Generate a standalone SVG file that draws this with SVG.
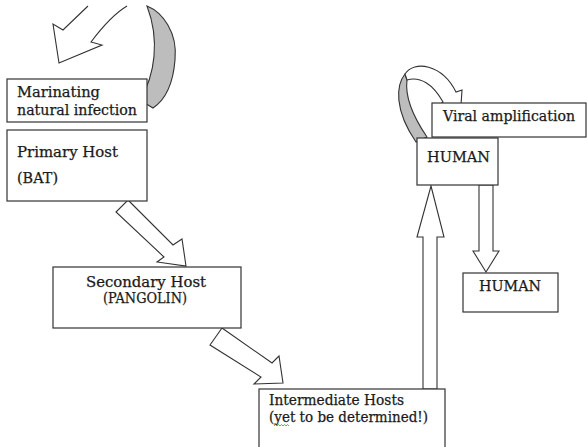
<svg xmlns="http://www.w3.org/2000/svg" width="587" height="447" viewBox="0 0 587 447">
<style>
.box{fill:#fff;stroke:#333;stroke-width:1.2}
.arr{fill:#fff;stroke:#333;stroke-width:1.1;stroke-linejoin:miter}
.band{fill:#bdbdbd;stroke:#333;stroke-width:1.1}
text{font-family:"DejaVu Serif","Liberation Serif",serif;font-size:14px;fill:#1a1a1a;stroke:#1a1a1a;stroke-width:0.25}
</style>
<rect width="587" height="447" fill="#fff"/>
<g id="connectors">
<path class="band" d="M147,6 C162,12 178,32 175,60 C173,85 165,100 153,108 L140,100 C155,75 160,40 147,6 Z"/>
<path class="arr" d="M88,6 L63,30 L53,24 L59,63 L102,45 L91,42 C100,30 112,15 127,6"/>
<path class="band" d="M405,74 C396,85 394,110 416,142 L427,137 C412,115 405,95 407,80 Z"/>
<path class="arr" d="M405,74 C414,60 442,64 456,92 L462,90 L460,120 L436,108 L443,102 C433,84 420,76 407,80 Z"/>
<polygon class="arr" points="128,200 173,245 182,239 186,266 157,262 164,257 116,212"/>
<polygon class="arr" points="222,328 272,363 279,356 283,383 254,384 261,377 210,345"/>
<polygon class="arr" points="423,389 423,237 417,237 431,186 444,237 437,237 437,389"/>
<polygon class="arr" points="479,185 479,251 473,251 486,272 499,251 493,251 493,185"/>
</g>
<g id="marinating">
<rect class="box" x="7" y="79" width="140" height="43"/>
<text x="17" y="97" textLength="83" lengthAdjust="spacingAndGlyphs">Marinating</text>
<text x="17" y="115" textLength="120" lengthAdjust="spacingAndGlyphs">natural infection</text>
</g>
<g id="primary">
<rect class="box" x="7" y="130" width="140" height="71"/>
<text x="17" y="157" textLength="101" lengthAdjust="spacingAndGlyphs">Primary Host</text>
<text x="17" y="183" textLength="41" lengthAdjust="spacingAndGlyphs">(BAT)</text>
</g>
<g id="secondary">
<rect class="box" x="53" y="267" width="188" height="61"/>
<text x="86" y="287" textLength="120" lengthAdjust="spacingAndGlyphs">Secondary Host</text>
<text x="103" y="303" textLength="84" lengthAdjust="spacingAndGlyphs">(PANGOLIN)</text>
</g>
<g id="intermediate">
<rect class="box" x="259" y="389" width="186" height="70"/>
<text x="269" y="405" textLength="135" lengthAdjust="spacingAndGlyphs">Intermediate Hosts</text>
<text x="269" y="422" textLength="159" lengthAdjust="spacingAndGlyphs">(yet to be determined!)</text>
<path d="M274,426 l1.5,-1.5 l1.5,1.5 l1.5,-1.5 l1.5,1.5 l1.5,-1.5 l1.5,1.5 l1.5,-1.5 l1.5,1.5 l1.5,-1.5 l1.5,1.5" fill="none" stroke="#3a9a3a" stroke-width="0.8"/>
</g>
<g id="viral">
<rect class="box" x="432" y="103" width="154" height="34"/>
<text x="443" y="121" textLength="132" lengthAdjust="spacingAndGlyphs">Viral amplification</text>
</g>
<g id="human-top">
<rect class="box" x="417" y="138" width="81" height="47"/>
<text x="427" y="162" textLength="63" lengthAdjust="spacingAndGlyphs">HUMAN</text>
</g>
<g id="human-bottom">
<rect class="box" x="463" y="273" width="95" height="39"/>
<text x="479" y="291" textLength="62" lengthAdjust="spacingAndGlyphs">HUMAN</text>
</g>
</svg>
